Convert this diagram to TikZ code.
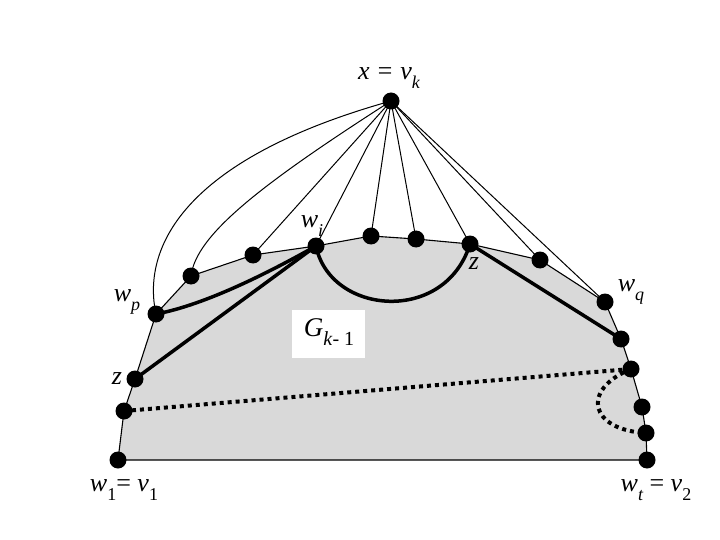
\documentclass[tikz,border=0pt]{standalone}
\usepackage{fontspec}
\setmainfont{Liberation Serif}
\newcommand\sbs[1]{\raisebox{-0.35em}{\fontsize{18}{18}\selectfont #1}}
\newcommand\sbg[1]{\raisebox{-0.35em}{\fontsize{20}{20}\selectfont #1}}
\definecolor{gfill}{RGB}{217,217,217}
\tikzset{
  dot/.style={circle,fill=black,inner sep=0pt,minimum size=17pt},
  thin edge/.style={line width=1pt},
  bound/.style={line width=1.1pt},
  thick edge/.style={line width=3.5pt},
  dotted edge/.style={line width=4pt,dash pattern=on 4pt off 4pt},
  lab/.style={font=\fontsize{26}{26}\selectfont\itshape,inner sep=0pt},
}
\begin{document}
\begin{tikzpicture}[x=1pt,y=-1pt]
\useasboundingbox (0,0) rectangle (720,540);
% vertices
\coordinate (x) at (391,101);
\coordinate (v1) at (118,460);
\coordinate (a1) at (124,411);
\coordinate (zl) at (135,379);
\coordinate (wp) at (156,314);
\coordinate (a2) at (191,276);
\coordinate (a3) at (253,255);
\coordinate (wi) at (316,246);
\coordinate (a4) at (371,236);
\coordinate (a5) at (416,239);
\coordinate (zr) at (470,244);
\coordinate (a6) at (540,260);
\coordinate (wq) at (605,302);
\coordinate (a7) at (621,339);
\coordinate (a8) at (631,369);
\coordinate (a9) at (642,407);
\coordinate (a10) at (646,433);
\coordinate (v2) at (647,460);
% region
\fill[gfill] (v1) -- (a1) -- (zl) -- (wp) -- (a2) -- (a3) -- (wi) -- (a4) -- (a5) -- (zr) -- (a6) -- (wq) -- (a7) -- (a8) -- (a9) -- (a10) -- (v2) -- cycle;
\draw[bound] (v1) -- (a1) -- (zl) -- (wp) -- (a2) -- (a3) -- (wi) -- (a4) -- (a5) -- (zr) -- (a6) -- (wq) -- (a7) -- (a8) -- (a9) -- (a10) -- (v2) -- cycle;
% edges from x
\draw[thin edge] (wp) .. controls (142,250) and (180,160) .. (x);
\draw[thin edge] (a2) .. controls (196,235) and (260,185) .. (x);
\foreach \t in {a3,wi,a4,a5,zr,a6,wq} \draw[thin edge] (x) -- (\t);
% thick paths
\draw[thick edge] (wp) .. controls (205,305) and (270,272) .. (wi);
\draw[thick edge] (zl) -- (wi);
\draw[thick edge] (wi) .. controls (330,315) and (445,325) .. (zr);
\draw[thick edge] (zr) -- (a7);
% dotted
\draw[dotted edge] (a1) -- (a8);
\draw[dotted edge] (a8) .. controls (580,390) and (590,430) .. (a10);
% box
\node[fill=white,minimum width=73pt,minimum height=48pt,inner sep=0pt] (box) at (328,334) {};
\node[font=\fontsize{27}{27}\selectfont,inner sep=0pt] (G) at (329,332) {\textit{G}\sbg{\textit{k}- 1}};
% dots
\foreach \p in {x,v1,a1,zl,wp,a2,a3,wi,a4,a5,zr,a6,wq,a7,a8,a9,a10,v2}
  \node[dot] (d\p) at (\p) {};
% labels
\node[lab] (lx) at (389,78) {x = v\sbs{k}};
\node[lab] (lwi) at (312,226) {w\sbs{i}};
\node[lab] (lzr) at (474,264) {z};
\node[lab] (lwq) at (631,292) {w\sbs{q}};
\node[lab] (lwp) at (127,302) {w\sbs{p}};
\node[lab] (lzl) at (117,379) {z};
\node[lab] (lv1) at (124,490) {w\sbs{\upshape 1}{\upshape=} v\sbs{\upshape 1}};
\node[lab] (lv2) at (656,490) {w\sbs{t} {\upshape=} v\sbs{\upshape 2}};
\end{tikzpicture}
\end{document}
